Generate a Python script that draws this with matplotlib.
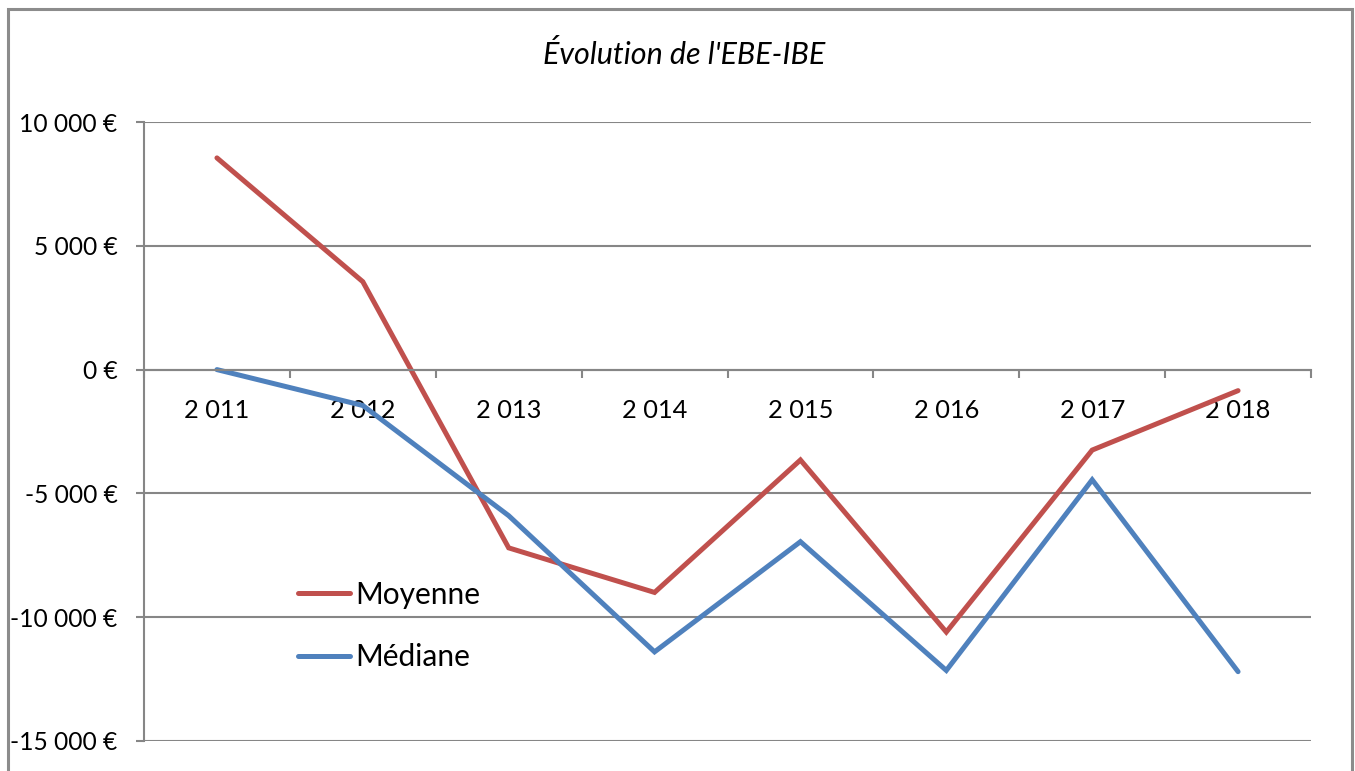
import matplotlib
matplotlib.use("Agg")
import matplotlib.pyplot as plt
from matplotlib.ticker import FuncFormatter, FixedLocator
from matplotlib.patches import Rectangle

years = ["2 011", "2 012", "2 013", "2 014", "2 015", "2 016", "2 017", "2 018"]
moyenne = [8550, 3550, -7200, -9000, -3650, -10600, -3250, -850]
mediane = [0, -1450, -5900, -11400, -6950, -12150, -4450, -12200]
yticks = [10000, 5000, 0, -5000, -10000, -15000]

plt.rcParams['font.family'] = ['Lato', 'DejaVu Sans']
W, H = 1355, 771
fig = plt.figure(figsize=(W / 100, H / 100), dpi=100)
fig.patch.set_facecolor('white')

# outer chart border
fig.patches.append(Rectangle((8 / W, -0.05), (1352 - 8) / W, (H - 9.5) / H + 0.05,
                             transform=fig.transFigure, fill=False,
                             edgecolor='#8c8c8c', linewidth=2.2, clip_on=False))

ax = fig.add_axes([144 / W, (H - 741) / H, (1311 - 144) / W, (741 - 122) / H])
x = list(range(len(years)))
ax.plot(x, moyenne, color='#C0504D', linewidth=3.6, solid_capstyle='round',
        solid_joinstyle='miter', label='Moyenne')
ax.plot(x, mediane, color='#4F81BD', linewidth=3.6, solid_capstyle='round',
        solid_joinstyle='miter', label='Médiane')

ax.set_xlim(-0.5, len(years) - 0.5)
ax.set_ylim(-15000, 10000)

grid_c = '#868686'
ax.yaxis.set_major_locator(FixedLocator(yticks))
ax.yaxis.set_major_formatter(FuncFormatter(
    lambda v, p: ('-' if v < 0 else '') + f"{abs(int(v)):,}".replace(',', ' ') + ' €'))
ax.grid(axis='y', color=grid_c, linewidth=1.5)
ax.set_axisbelow(True)

for s in ['top', 'right']:
    ax.spines[s].set_visible(False)
ax.spines['left'].set_color(grid_c)
ax.spines['left'].set_linewidth(1.5)
ax.spines['bottom'].set_position(('data', 0))
ax.spines['bottom'].set_color(grid_c)
ax.spines['bottom'].set_linewidth(1.5)

ax.set_xticks(x)
ax.set_xticklabels(years)
ax.set_xticks([i - 0.5 for i in range(len(years) + 1)], minor=True)
ax.tick_params(axis='x', which='major', length=0, pad=21, labelsize=18.3)
ax.tick_params(axis='x', which='minor', length=6, width=1.5, color=grid_c, direction='out')
ax.tick_params(axis='y', which='major', length=6, width=1.5, color=grid_c,
               direction='out', pad=13, labelsize=17.7)

fig.text(684 / W, 1 - 55 / H, "Évolution de l'EBE-IBE", fontsize=22, style='italic',
         ha='center', va='center')

leg = ax.legend(loc='center left', bbox_to_anchor=(0.132, 0.186), frameon=False,
                fontsize=21.5, handlelength=1.75, handletextpad=0.15, labelspacing=1.15,
                borderpad=0, borderaxespad=0)

fig.savefig('out.png', dpi=100, facecolor='white')
